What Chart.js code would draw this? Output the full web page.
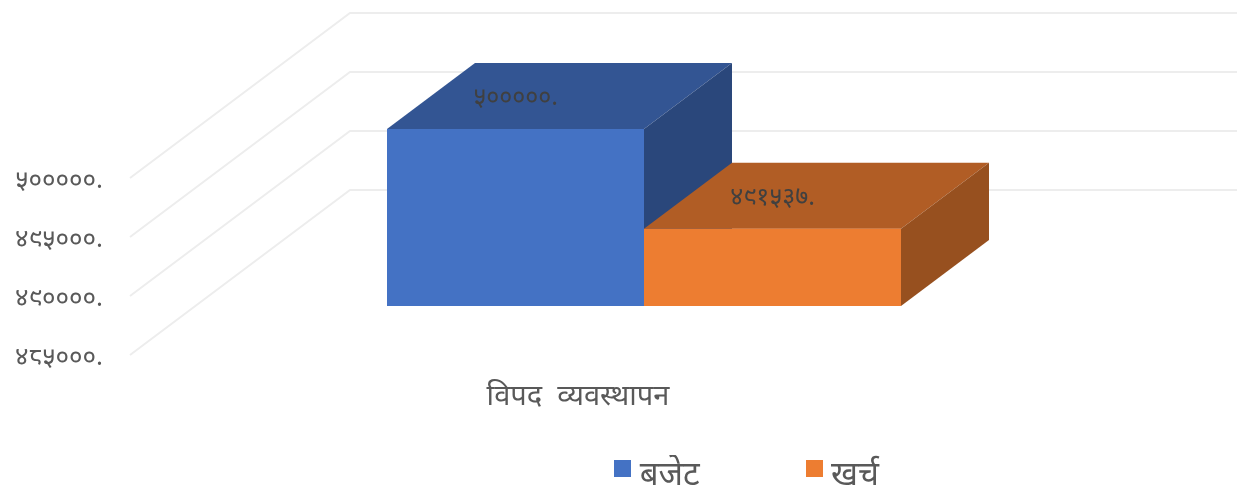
<!DOCTYPE html>
<html lang="ne">
<head>
<meta charset="UTF-8">
<title>विपद व्यवस्थापन</title>
<script src="https://cdn.jsdelivr.net/npm/chart.js"></script>
<style>
    html, body { margin: 0; padding: 0; background: #fff; overflow: hidden; }
    #wrap { width: 1237px; height: 489px; position: relative; }
</style>
</head>
<body>
<div id="wrap"><canvas id="grafico"></canvas></div>
<script>
    var categorias = ['विपद  व्यवस्थापन'];
    var nomes_series = ['बजेट', 'खर्च'];
    var valores_budget = [500000];
    var valores_gasto = [491537];
    var ticks_y = [485000, 490000, 495000, 500000];

    var cores_frente = ['#4472c4', '#ed7d31'];
    var cores_topo = ['#335593', '#b15d25'];
    var cores_lado = ['#2a477b', '#97501f'];

    // depth of the 3d box, same slope as the side wall
    var prof_x = 88, prof_y = -66;
    var parede_x = 130, parede_y = 49;

    var digitos = ['०', '१', '२', '३', '४', '५', '६', '७', '८', '९'];
    function nepali(n) {
        return String(n).split('').map(function (d) { return digitos[+d]; }).join('') + '.';
    }

    function poligono(ctx, pts, cor) {
        ctx.fillStyle = cor;
        ctx.beginPath();
        ctx.moveTo(pts[0][0], pts[0][1]);
        for (var i = 1; i < pts.length; i++) ctx.lineTo(pts[i][0], pts[i][1]);
        ctx.closePath();
        ctx.fill();
    }

    // legend swatch as a small canvas, so the text can sit close to it and a bit lower
    function amostra(cor) {
        var c = document.createElement('canvas');
        c.width = 17;
        c.height = 31;
        var g = c.getContext('2d');
        g.fillStyle = cor;
        g.fillRect(0, 0, 17, 17);
        return c;
    }

    var paredes = {
        id: 'paredes',
        beforeDatasetsDraw: function (chart) {
            var ctx = chart.ctx, y = chart.scales.y;
            ctx.save();
            ctx.strokeStyle = '#ededed';
            ctx.lineWidth = 2;
            ticks_y.forEach(function (v) {
                var py = y.getPixelForValue(v) + parede_y;
                ctx.beginPath();
                ctx.moveTo(parede_x, py);
                ctx.lineTo(350, py - 165);
                ctx.lineTo(1237, py - 165);
                ctx.stroke();
            });
            ctx.restore();
        }
    };

    var caixas = {
        id: 'caixas',
        afterDatasetsDraw: function (chart) {
            var ctx = chart.ctx;
            // blue first, the orange box sits in front of its side
            [0, 1].forEach(function (i) {
                var bar = chart.getDatasetMeta(i).data[0];
                var e = bar.x - bar.width / 2, d = bar.x + bar.width / 2;
                var t = bar.y, b = bar.base;
                poligono(ctx, [[e, t], [d, t], [d + prof_x, t + prof_y], [e + prof_x, t + prof_y]], cores_topo[i]);
                poligono(ctx, [[d, t], [d + prof_x, t + prof_y], [d + prof_x, b + prof_y], [d, b]], cores_lado[i]);
                poligono(ctx, [[e, t], [d, t], [d, b], [e, b]], cores_frente[i]);
            });
            [0, 1].forEach(function (i) {
                var bar = chart.getDatasetMeta(i).data[0];
                ctx.save();
                ctx.font = '25px "Noto Sans", sans-serif';
                ctx.fillStyle = '#404040';
                ctx.textAlign = 'center';
                ctx.textBaseline = 'middle';
                ctx.fillText(nepali(chart.data.datasets[i].data[0]), bar.x, bar.y + prof_y / 2 + 2);
                ctx.restore();
            });
        }
    };

    new Chart(document.getElementById('grafico'), {
        type: 'bar',
        data: {
            labels: categorias,
            datasets: [
                { label: nomes_series[0], data: valores_budget, base: ticks_y[0], backgroundColor: cores_frente[0], borderWidth: 0 },
                { label: nomes_series[1], data: valores_gasto, base: ticks_y[0], backgroundColor: cores_frente[1], borderWidth: 0 }
            ]
        },
        options: {
            responsive: true,
            maintainAspectRatio: false,
            animation: false,
            layout: { padding: { left: 0, right: 79, top: 129, bottom: -13 } },
            categoryPercentage: 0.5,
            barPercentage: 1,
            plugins: {
                tooltip: { enabled: false },
                legend: {
                    position: 'bottom',
                    align: 'end',
                    labels: {
                        usePointStyle: true,
                        pointStyleWidth: 1,
                        boxHeight: 17,
                        padding: 4,
                        color: '#595959',
                        font: { family: '"Noto Sans", sans-serif', size: 33 },
                        generateLabels: function (chart) {
                            return chart.data.datasets.map(function (ds, i) {
                                return {
                                    text: i == 0 ? ds.label + '\u2003\u2003\u2003\u2009\u2009' : ds.label + '\u2003'.repeat(8) + '\u2009\u2009',
                                    pointStyle: amostra(cores_frente[i]),
                                    fontColor: '#595959',
                                    lineWidth: 0,
                                    datasetIndex: i
                                };
                            });
                        }
                    }
                }
            },
            scales: {
                x: {
                    afterFit: function (axis) { axis.height = 149; },
                    grid: { display: false },
                    border: { display: false },
                    ticks: { color: '#595959', labelOffset: -66, padding: 65, font: { family: '"Noto Sans", sans-serif', size: 29 } }
                },
                y: {
                    min: ticks_y[0],
                    max: ticks_y[3],
                    afterFit: function (axis) { axis.width = 130; },
                    afterBuildTicks: function (axis) { axis.ticks = ticks_y.map(function (v) { return { value: v }; }); },
                    grid: { display: false },
                    border: { display: false },
                    ticks: {
                        color: '#595959',
                        labelOffset: 52,
                        padding: 19,
                        font: { family: '"Noto Sans", sans-serif', size: 26 },
                        callback: function (v) { return nepali(v); }
                    }
                }
            }
        },
        plugins: [paredes, caixas]
    });
</script>
</body>
</html>
